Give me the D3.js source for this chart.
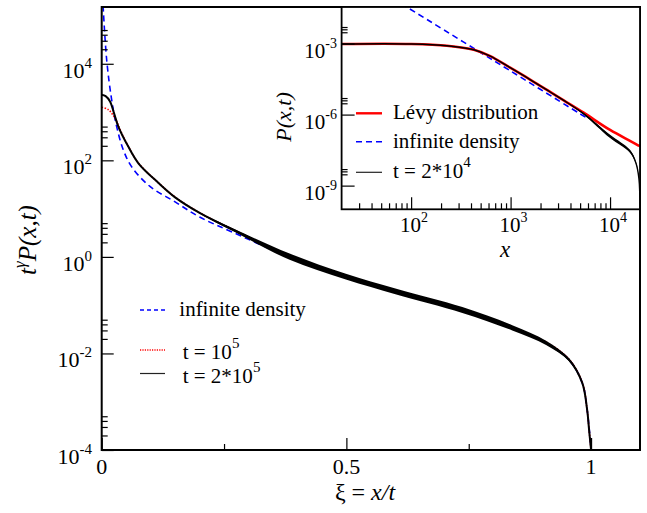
<!DOCTYPE html>
<html><head><meta charset="utf-8">
<script src="https://cdnjs.cloudflare.com/ajax/libs/d3/7.8.5/d3.min.js"></script>
<style>
html,body{margin:0;padding:0;background:#fff;}
svg{display:block;}
</style></head><body>
<svg id="c" width="647" height="513"></svg>
<script>
// ---------------- DATA ----------------
// main panel: xi = x/t  vs  t^gamma P(x,t)
const blackXi   = [0,0.008,0.017,0.025,0.034,0.054,0.075,0.116,0.15,0.201,0.269,0.384,0.499,0.602,0.737,0.839,0.908,0.955,0.982,0.992,0.996,1.0];
const blackVal  = [2290,2140,1660,960,500,195,87,34,17.1,8.05,3.63,1.01,0.389,0.191,0.0794,0.0339,0.0166,0.00741,0.00245,0.000676,0.000257,0.0001];
const blackNoise= [0,0,0,0,0,0,0,0,0,0.01,0.03,0.065,0.06,0.06,0.06,0.055,0.045,0.03,0.015,0.005,0,0];
const redXi     = [0,0.0135,0.023,0.031,0.040,0.054,0.075,0.116,0.15,0.201,0.269,0.384,0.499,0.602,0.737,0.839,0.908,0.955,0.982,0.992,0.996,1.0];
const redVal    = [1260,1120,870,630,380,198,88,34.3,17.3,8.1,3.65,1.01,0.39,0.192,0.080,0.0345,0.0172,0.0076,0.00248,0.00068,0.00026,0.0001];
const blueXi    = [0.0028,0.0102,0.0204,0.0306,0.044,0.061,0.0986,0.15,0.2,0.269,0.384,0.499,0.602,0.737,0.839,0.908,0.955,0.982,0.992,1.0];
const blueVal   = [160000,12000,1780,500,166,74,28.8,13.8,6.7,3.2,1.0,0.389,0.191,0.0794,0.0339,0.0166,0.00741,0.00245,0.000676,0.0001];

// inset: x vs P(x,t)
const insetX      = [20,100,229,427,617,1000,1570,2500,3390,5370,10000,15850,18200,19500,20000];
const levyP       = [9.55e-4,9.55e-4,8.13e-4,5.5e-4,3.02e-4,9.33e-5,3.02e-5,9.02e-6,4.07e-6,1.23e-6,2.24e-7,7.8e-8,5.7e-8,4.84e-8,4.57e-8];
const simP        = [9.55e-4,9.55e-4,8.13e-4,5.5e-4,3.02e-4,9.33e-5,3.02e-5,9.02e-6,4.07e-6,1.12e-6,1.2e-7,2.82e-8,9.1e-9,2e-9,1e-10];
const simNoise    = [0,0,0,0,0,0,0,0,0,0.03,0.07,0.06,0.04,0.02,0];
const blueInsetX  = [80,1000,6000];
const blueInsetP  = [0.0478,6.93e-5,6.7e-7];

// ticks
const mainXMajor = [0,0.5,1];
const mainXMinor = [0.25,0.75];
const mainXLabels = ["0","0.5","1"];
const mainYMajor = [1e-4,1e-2,1,1e2,1e4];
const mainYExp   = ["-4","-2","0","2","4"];
const mainYMinorMult = [2,3,4,5];
const insetXMajor = [1e2,1e3,1e4];
const insetXExp   = ["2","3","4"];
const insetYMajor = [1e-9,1e-6,1e-3];
const insetYExp   = ["-9","-6","-3"];
const insetYMinorMult = [3,4,5];

const mainLegend  = ["infinite density","t = 10","t = 2*10"];
const mainLegendSup = ["","5","5"];
const insetLegend = ["Lévy distribution","infinite density","t = 2*10"];
const insetLegendSup = ["","","4"];

// ---------------- DRAW ----------------
const svg = d3.select("#c");

// pick an installed serif face (width test against two different fallbacks)
function available(f){
  const t = svg.append("text").attr("font-size",40).attr("x",-1000).attr("y",-1000).text("infinite density Wg 10 xyz");
  t.attr("font-family",`"${f}", monospace`); const a=t.node().getComputedTextLength();
  t.attr("font-family",`"${f}", sans-serif`); const b=t.node().getComputedTextLength();
  t.remove(); return Math.abs(a-b)<0.01;
}
const cands = ["Liberation Serif","Times New Roman","Tinos","Times","Nimbus Roman","DejaVu Serif","Noto Serif","FreeSerif"];
let FONT = "serif";
for(const c of cands){ if(available(c)){ FONT = `"${c}", serif`; break; } }
svg.attr("font-family",FONT);

const M = {l:101.7, r:640, t:7, b:450};
const I = {l:341.6, r:640, t:7, b:209.3};

const x = d3.scaleLinear().domain([0,1.1]).range([M.l,M.r]);
const y = d3.scaleLog().domain([1e-4,1.5e5]).range([M.b,M.t]);
const xi = d3.scaleLog().domain([20,20000]).range([I.l,I.r]);
const yi = d3.scaleLog().domain([1e-10,0.035]).range([I.b,I.t]);

const defs = svg.append("defs");
defs.append("clipPath").attr("id","cm").append("rect")
  .attr("x",M.l).attr("y",M.t).attr("width",M.r-M.l).attr("height",M.b-M.t);
defs.append("clipPath").attr("id","ci").append("rect")
  .attr("x",I.l).attr("y",I.t).attr("width",I.r-I.l).attr("height",I.b-I.t);

const curve = d3.curveCatmullRom.alpha(0.5);
const zip = (a,b)=>a.map((v,i)=>[v,b[i]]);
function T(sel){ return sel.append("text").attr("font-family",FONT).attr("fill","#000"); }

// main curves
const gm = svg.append("g").attr("clip-path","url(#cm)");
const lineM = d3.line().x(d=>x(d[0])).y(d=>y(d[1])).curve(curve);

gm.append("path").datum(zip(blueXi,blueVal)).attr("d",lineM)
  .attr("fill","none").attr("stroke","#0000ff").attr("stroke-width",1.6).attr("stroke-dasharray","6,4");
gm.append("path").datum(zip(redXi,redVal)).attr("d",lineM)
  .attr("fill","none").attr("stroke","#ff0000").attr("stroke-width",1.6).attr("stroke-dasharray","1.5,1.5");
const bandM = d3.area().x(d=>x(d[0])).y0(d=>y(d[1]*Math.pow(10,-d[2]))).y1(d=>y(d[1]*Math.pow(10,d[2]))).curve(curve);
gm.append("path").datum(blackXi.map((v,i)=>[v,blackVal[i],blackNoise[i]])).attr("d",bandM)
  .attr("fill","#000").attr("stroke","none");
gm.append("path").datum(zip(blackXi,blackVal)).attr("d",lineM)
  .attr("fill","none").attr("stroke","#000").attr("stroke-width",2);

// main axes
const gx = svg.append("g").attr("transform",`translate(0,${M.b})`);
gx.call(d3.axisBottom(x).tickValues(mainXMajor).tickSize(-12).tickSizeOuter(0).tickFormat(""));
gx.append("g").call(d3.axisBottom(x).tickValues(mainXMinor).tickSize(-6).tickSizeOuter(0).tickFormat(""));
const gy = svg.append("g").attr("transform",`translate(${M.l},0)`);
gy.call(d3.axisLeft(y).tickValues(mainYMajor).tickSize(-12).tickSizeOuter(0).tickFormat(""));
const minorY = [];
mainYMajor.forEach(v=>mainYMinorMult.forEach(m=>{ if(v*m<1.5e5) minorY.push(v*m); }));
gy.append("g").call(d3.axisLeft(y).tickValues(minorY).tickSize(-6).tickSizeOuter(0).tickFormat(""));
svg.selectAll(".domain").remove();
svg.selectAll(".tick line").attr("stroke","#000").attr("stroke-width",1.3);

// main frame
svg.append("rect").attr("x",M.l).attr("y",M.t).attr("width",M.r-M.l).attr("height",M.b-M.t)
  .attr("fill","none").attr("stroke","#000").attr("stroke-width",2);

// main tick labels
mainXMajor.forEach((d,i)=>{
  T(svg).attr("x",x(d)).attr("y",M.b+24).attr("text-anchor","middle").attr("font-size",22).text(mainXLabels[i]);
});
mainYMajor.forEach((d,i)=>{
  const t = T(svg).attr("x",92).attr("y",y(d)+14).attr("text-anchor","end").attr("font-size",22);
  t.append("tspan").text("10");
  t.append("tspan").attr("dy",-10).attr("font-size",15).text(mainYExp[i]);
});

// main axis titles
const xt = T(svg).attr("x",365).attr("y",500).attr("text-anchor","middle").attr("font-size",24);
xt.append("tspan").text("ξ = ");
xt.append("tspan").attr("font-style","italic").text("x/t");
const yt = T(svg).attr("transform","translate(36,240) rotate(-90)").attr("text-anchor","middle").attr("font-size",25).attr("font-style","italic");
yt.append("tspan").text("t");
yt.append("tspan").attr("dy",-11).attr("font-size",17).text("γ");
yt.append("tspan").attr("dy",11).text("P(x,t)");

// main legend
const mlStyles = [
  {c:"#0000ff",w:1.6,da:"4,3"},
  {c:"#ff0000",w:1.4,da:"1.2,1.2"},
  {c:"#222",w:1.2,da:null}];
const mlY = [310,350,373.5];
const mlTx = [179.3,182.7,182.7];
mainLegend.forEach((t,i)=>{
  svg.append("line").attr("x1",140).attr("x2",165).attr("y1",mlY[i]).attr("y2",mlY[i])
    .attr("stroke",mlStyles[i].c).attr("stroke-width",mlStyles[i].w).attr("stroke-dasharray",mlStyles[i].da);
  const tx = T(svg).attr("x",mlTx[i]).attr("y",mlY[i]+(i==0?6:9)).attr("font-size",21);
  tx.append("tspan").text(t);
  if(mainLegendSup[i]) tx.append("tspan").attr("dy",-11).attr("font-size",15).text(mainLegendSup[i]);
});

// ---------- inset ----------
svg.append("rect").attr("x",I.l).attr("y",I.t).attr("width",I.r-I.l).attr("height",I.b-I.t).attr("fill","#fff");
const gi = svg.append("g").attr("clip-path","url(#ci)");
const lineI = d3.line().x(d=>xi(d[0])).y(d=>yi(d[1])).curve(curve);
gi.append("path").datum(zip(blueInsetX,blueInsetP)).attr("d",lineI)
  .attr("fill","none").attr("stroke","#0000ff").attr("stroke-width",1.6).attr("stroke-dasharray","6,4");
gi.append("path").datum(zip(insetX,levyP)).attr("d",lineI)
  .attr("fill","none").attr("stroke","#ff0000").attr("stroke-width",2.6);
const bandI = d3.area().x(d=>xi(d[0])).y0(d=>yi(d[1]*Math.pow(10,-d[2]))).y1(d=>yi(d[1]*Math.pow(10,d[2]))).curve(curve);
gi.append("path").datum(insetX.map((v,i)=>[v,simP[i],simNoise[i]])).attr("d",bandI).attr("fill","#000");
gi.append("path").datum(zip(insetX,simP)).attr("d",lineI)
  .attr("fill","none").attr("stroke","#000").attr("stroke-width",1.4);

const gix = svg.append("g").attr("transform",`translate(0,${I.b})`);
gix.call(d3.axisBottom(xi).tickValues(insetXMajor).tickSize(-12).tickSizeOuter(0).tickFormat(""));
const insetXMinor = [];
[10,100,1000].forEach(b=>[2,3,4,5,6,7,8,9].forEach(m=>{const v=b*m; if(v>20 && v<20000) insetXMinor.push(v);}));
gix.append("g").call(d3.axisBottom(xi).tickValues(insetXMinor).tickSize(-6).tickSizeOuter(0).tickFormat(""));
const giy = svg.append("g").attr("transform",`translate(${I.l},0)`);
giy.call(d3.axisLeft(yi).tickValues(insetYMajor).tickSize(-13).tickSizeOuter(0).tickFormat(""));
const insetYMinor = [];
insetYMajor.forEach(v=>insetYMinorMult.forEach(m=>insetYMinor.push(v*m)));
giy.append("g").call(d3.axisLeft(yi).tickValues(insetYMinor).tickSize(-6).tickSizeOuter(0).tickFormat(""));
svg.selectAll(".domain").remove();
svg.selectAll(".tick line").attr("stroke","#000").attr("stroke-width",1.2);

svg.append("rect").attr("x",I.l).attr("y",I.t).attr("width",I.r-I.l).attr("height",I.b-I.t)
  .attr("fill","none").attr("stroke","#000").attr("stroke-width",1.8);

insetXMajor.forEach((d,i)=>{
  const t = T(svg).attr("x",xi(d)+3).attr("y",I.b+23).attr("text-anchor","middle").attr("font-size",21);
  t.append("tspan").text("10");
  t.append("tspan").attr("dy",-10).attr("font-size",14).text(insetXExp[i]);
});
insetYMajor.forEach((d,i)=>{
  const t = T(svg).attr("x",337).attr("y",yi(d)+14).attr("text-anchor","end").attr("font-size",21);
  t.append("tspan").text("10");
  t.append("tspan").attr("dy",-10).attr("font-size",14).text(insetYExp[i]);
});

T(svg).attr("x",505).attr("y",257).attr("text-anchor","middle").attr("font-size",23)
  .attr("font-style","italic").text("x");
T(svg).attr("transform","translate(291,117) rotate(-90)").attr("text-anchor","middle")
  .attr("font-size",22).attr("font-style","italic").text("P(x,t)");

const ilStyles = [
  {c:"#ff0000",w:2.4,da:null},
  {c:"#0000ff",w:1.6,da:"6,4"},
  {c:"#222",w:1.2,da:null}];
const ilY = [113.3,141.7,172.3];
insetLegend.forEach((t,i)=>{
  svg.append("line").attr("x1",356).attr("x2",382).attr("y1",ilY[i]).attr("y2",ilY[i])
    .attr("stroke",ilStyles[i].c).attr("stroke-width",ilStyles[i].w).attr("stroke-dasharray",ilStyles[i].da);
  const tx = T(svg).attr("x",393).attr("y",ilY[i]+6).attr("font-size",21);
  tx.append("tspan").text(t);
  if(insetLegendSup[i]) tx.append("tspan").attr("dy",-11).attr("font-size",15).text(insetLegendSup[i]);
});
</script>
</body></html>
